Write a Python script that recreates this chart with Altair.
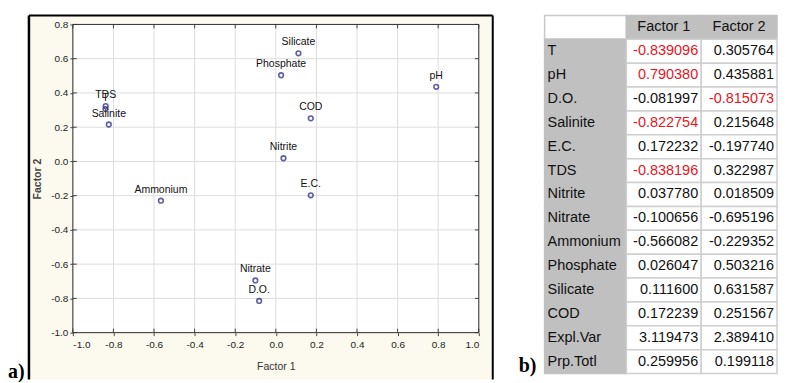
import altair as alt
import pandas as pd

# ---------------- data ----------------
params = ["T", "pH", "D.O.", "Salinite", "E.C.", "TDS", "Nitrite", "Nitrate",
          "Ammonium", "Phosphate", "Silicate", "COD"]
factor1 = [-0.839096, 0.790380, -0.081997, -0.822754, 0.172232, -0.838196,
           0.037780, -0.100656, -0.566082, 0.026047, 0.111600, 0.172239]
factor2 = [0.305764, 0.435881, -0.815073, 0.215648, -0.197740, 0.322987,
           0.018509, -0.695196, -0.229352, 0.503216, 0.631587, 0.251567]
summary_labels = ["Expl.Var", "Prp.Totl"]
summary_f1 = [3.119473, 0.259956]
summary_f2 = [2.389410, 0.199118]
col_headers = ["Factor 1", "Factor 2"]
x_ticks = [-1.0, -0.8, -0.6, -0.4, -0.2, 0.0, 0.2, 0.4, 0.6, 0.8, 1.0]
y_ticks = [-1.0, -0.8, -0.6, -0.4, -0.2, 0.0, 0.2, 0.4, 0.6, 0.8]
highlight = 0.7

# ---------------- layout / style ----------------
W, H = 407, 309
TABLE_COL_W = [82, 75, 76]          # pixel widths of the table columns
TABLE_X0 = 473                      # table left edge, relative to plot origin
NARROW = "Liberation Sans Narrow, Arial Narrow, Liberation Sans, Arial, sans-serif"
SANS = "Liberation Sans, Arial, sans-serif"
SERIF = "Liberation Serif, Times New Roman, serif"
CREAM = "#fcfaee"
GRAY = "#c0c0c0"
PT = "#1f1f7a"
TFS = 14.5
LBL = "replace(format(datum.value, '.1f'), '\u2212', '-')"

scatter_df = pd.DataFrame({"name": params, "f1": factor1, "f2": factor2})
xt_df = pd.DataFrame({"v": x_ticks})
yt_df = pd.DataFrame({"v": y_ticks})
one = pd.DataFrame({"k": [0]})

xs = alt.Scale(domain=[-1.0, 1.0], nice=False, zero=False)
ys = alt.Scale(domain=[-1.0, 0.8], nice=False, zero=False)

x_axis = alt.Axis(values=x_ticks, labelExpr=LBL, title="Factor 1", grid=False,
                  domain=False, tickSize=3, tickColor="#444", labelFont=NARROW,
                  labelFontSize=10, labelColor="#222", labelPadding=4,
                  titleFont=NARROW, titleFontSize=10.5, titleFontWeight="normal",
                  titleColor="#333", titlePadding=12, zindex=1)
y_axis = alt.Axis(values=y_ticks, labelExpr=LBL, title="Factor 2", grid=False,
                  domain=False, tickSize=3, tickColor="#444", labelFont=NARROW,
                  labelFontSize=10, labelColor="#222", labelPadding=2,
                  titleFont=NARROW, titleFontSize=10.5, titleFontWeight="bold",
                  titleColor="#444", titlePadding=8, zindex=1)

cream = alt.Chart(one).mark_rect(fill=CREAM).encode(
    x=alt.value(-44), x2=alt.value(421), y=alt.value(-9), y2=alt.value(356))
frame_l = alt.Chart(one).mark_rule(color="#000", strokeWidth=2.5).encode(
    x=alt.value(-44), y=alt.value(-9), y2=alt.value(356))
frame_t = alt.Chart(one).mark_rule(color="#000", strokeWidth=2).encode(
    x=alt.value(-44), x2=alt.value(421), y=alt.value(-9))
frame_r = alt.Chart(one).mark_rule(color="#000", strokeWidth=2).encode(
    x=alt.value(421), y=alt.value(-9), y2=alt.value(356))
plot_bg = alt.Chart(one).mark_rect(fill="white").encode(
    x=alt.value(0), x2=alt.value(W), y=alt.value(0), y2=alt.value(H))

xgrid = alt.Chart(xt_df).mark_rule(color="#dddddd", strokeWidth=1).encode(
    x=alt.X("v:Q", scale=xs, axis=x_axis), y=alt.value(0), y2=alt.value(H))
ygrid = alt.Chart(yt_df).mark_rule(color="#dddddd", strokeWidth=1).encode(
    y=alt.Y("v:Q", scale=ys, axis=y_axis), x=alt.value(0), x2=alt.value(W))
border = alt.Chart(one).mark_rect(fill=None, stroke="#333", strokeWidth=1).encode(
    x=alt.value(0), x2=alt.value(W), y=alt.value(0), y2=alt.value(H))
xt_top = alt.Chart(xt_df).mark_rule(color="#444").encode(
    x=alt.X("v:Q", scale=xs, axis=x_axis), y=alt.value(0), y2=alt.value(4))
xt_bot = alt.Chart(xt_df).mark_rule(color="#444").encode(
    x=alt.X("v:Q", scale=xs, axis=x_axis), y=alt.value(H - 4), y2=alt.value(H))
yt_left = alt.Chart(yt_df).mark_rule(color="#444").encode(
    y=alt.Y("v:Q", scale=ys, axis=y_axis), x=alt.value(0), x2=alt.value(4))
yt_right = alt.Chart(yt_df).mark_rule(color="#444").encode(
    y=alt.Y("v:Q", scale=ys, axis=y_axis), x=alt.value(W - 4), x2=alt.value(W))

points = alt.Chart(scatter_df).mark_point(
    shape="circle", filled=False, size=22, strokeWidth=1.6, color=PT).encode(
    x=alt.X("f1:Q", scale=xs, axis=x_axis),
    y=alt.Y("f2:Q", scale=ys, axis=y_axis))
labels = alt.Chart(scatter_df).mark_text(
    dy=-11, font=NARROW, fontSize=10.5, color="#111", baseline="middle").encode(
    x=alt.X("f1:Q", scale=xs, axis=x_axis),
    y=alt.Y("f2:Q", scale=ys, axis=y_axis),
    text="name:N")

tag_a = alt.Chart(one).mark_text(text="a)", font=SERIF, fontSize=20, fontWeight="bold",
                                 align="left", baseline="middle", color="#000").encode(
    x=alt.value(-65), y=alt.value(348))
tag_b = alt.Chart(one).mark_text(text="b)", font=SERIF, fontSize=20, fontWeight="bold",
                                 align="left", baseline="middle", color="#000").encode(
    x=alt.value(447), y=alt.value(342))

scatter = alt.layer(cream, frame_l, frame_t, frame_r, plot_bg, xgrid, ygrid,
                    xt_top, xt_bot, yt_left, yt_right, border, points, labels,
                    tag_a, tag_b)

# ---------------- table ----------------
row_keys = ["hdr"] + params + summary_labels
col_keys = ["label"] + col_headers
edges = [0]
for w in TABLE_COL_W:
    edges.append(edges[-1] + w)
col_x0 = dict(zip(col_keys, edges[:-1]))
col_x1 = dict(zip(col_keys, edges[1:]))

cells = []
def add(row, col, text, kind, fill, stroke, tc):
    cells.append({"row": row, "col": col, "text": text, "kind": kind,
                  "fill": fill, "stroke": stroke, "tc": tc,
                  "x0": col_x0[col], "x1": col_x1[col],
                  "xc": (col_x0[col] + col_x1[col]) / 2})

add("hdr", "label", "", "corner", "white", "#c8c8c8", "#000")
for h in col_headers:
    add("hdr", h, h, "header", GRAY, GRAY, "#111")
rows_vals = list(zip(params, factor1, factor2)) + list(zip(summary_labels, summary_f1, summary_f2))
for i, (name, a, b) in enumerate(rows_vals):
    loading = i < len(params)
    add(name, "label", name, "label", GRAY, GRAY, "#111")
    for h, v in zip(col_headers, (a, b)):
        red = loading and abs(v) > highlight
        add(name, h, f"{v:.6f}", "value", "white", "#cfcfcf",
            "#e8141b" if red else "#111")
table_df = pd.DataFrame(cells)

tx = alt.Scale(domain=[0, edges[-1]], range=[TABLE_X0, TABLE_X0 + edges[-1]],
               nice=False, zero=False)
ty = alt.Scale(type="band", domain=row_keys, range=[-9, 350], paddingInner=0, paddingOuter=0)

tbase = alt.Chart(table_df)
t_rect = tbase.mark_rect(strokeWidth=1.5).encode(
    x=alt.X("x0:Q", scale=tx, axis=None), x2="x1:Q",
    y=alt.Y("row:N", scale=ty, axis=None),
    fill=alt.Fill("fill:N", scale=None),
    stroke=alt.Stroke("stroke:N", scale=None))
t_lab = tbase.transform_filter(alt.datum.kind == "label").mark_text(
    align="left", baseline="middle", dx=3, font=SANS, fontSize=TFS).encode(
    x=alt.X("x0:Q", scale=tx, axis=None),
    y=alt.Y("row:N", scale=ty, axis=None),
    text="text:N", color=alt.Color("tc:N", scale=None))
t_val = tbase.transform_filter(alt.datum.kind == "value").mark_text(
    align="right", baseline="middle", dx=-3, font=SANS, fontSize=TFS).encode(
    x=alt.X("x1:Q", scale=tx, axis=None),
    y=alt.Y("row:N", scale=ty, axis=None),
    text="text:N", color=alt.Color("tc:N", scale=None))
t_hdr = tbase.transform_filter(alt.datum.kind == "header").mark_text(
    align="center", baseline="middle", font=SANS, fontSize=TFS).encode(
    x=alt.X("xc:Q", scale=tx, axis=None),
    y=alt.Y("row:N", scale=ty, axis=None),
    text="text:N", color=alt.Color("tc:N", scale=None))
table = alt.layer(t_rect, t_lab, t_val, t_hdr)

chart = alt.layer(scatter, table).resolve_scale(
    x="independent", y="independent"
).properties(
    width=W, height=H,
    padding={"left": 0, "top": 5, "right": 2, "bottom": 0},
).configure_view(stroke=None)

chart.save("out.html", embed_options={"renderer": "svg", "actions": False})
